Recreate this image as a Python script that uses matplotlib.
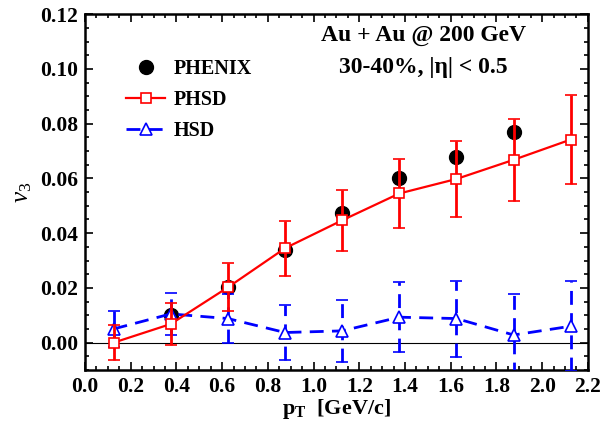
import matplotlib
matplotlib.use("Agg")
import matplotlib.pyplot as plt
from matplotlib.ticker import MultipleLocator, FormatStrFormatter

plt.rcParams['font.family'] = ['Liberation Serif', 'DejaVu Serif']
plt.rcParams['mathtext.fontset'] = 'custom'
plt.rcParams['mathtext.rm'] = 'Liberation Serif'
plt.rcParams['mathtext.it'] = 'Liberation Serif:italic'
plt.rcParams['mathtext.bf'] = 'Liberation Serif:bold'

# data
pt_phenix = [0.375, 0.625, 0.875, 1.125, 1.375, 1.625, 1.875]
v3_phenix = [0.010, 0.0204, 0.034, 0.0473, 0.060, 0.068, 0.077]

pt_model = [0.125, 0.375, 0.625, 0.875, 1.125, 1.375, 1.625, 1.875, 2.125]
v3_phsd = [0.0, 0.0068, 0.0202, 0.0345, 0.0447, 0.0545, 0.0598, 0.0668, 0.0742]
err_phsd = [0.0065, 0.0076, 0.0088, 0.0100, 0.0111, 0.0125, 0.0138, 0.0150, 0.0163]
v3_hsd = [0.0050, 0.0105, 0.0088, 0.0037, 0.0043, 0.0093, 0.0088, 0.0028, 0.0060]
err_hsd = [0.0065, 0.0077, 0.0088, 0.0100, 0.0113, 0.0128, 0.0139, 0.0150, 0.0165]

fig = plt.figure(figsize=(6.03, 4.30), dpi=100)
ax = fig.add_axes([0.141, 0.1395, 0.834, 0.8275])

ax.axhline(0.0, color='black', lw=0.8, zorder=1)

ph, = ax.plot(pt_phenix, v3_phenix, 'o', color='black', ms=10, label='PHENIX', zorder=2)

eb1 = ax.errorbar(pt_model, v3_phsd, yerr=err_phsd, color='red', lw=1.6,
                  marker='s', ms=7.5, mfc='white', mec='red', mew=1.2,
                  capsize=4.5, capthick=2.0, elinewidth=2.0, label='PHSD', zorder=4)

dash = (0, (5, 3))
eb2 = ax.errorbar(pt_model, v3_hsd, yerr=err_hsd, color='blue', lw=2.0,
                  ls=dash, marker='^', ms=8, mfc='white', mec='blue', mew=1.2,
                  capsize=4.5, capthick=2.0, elinewidth=2.0, label='HSD', zorder=3)
for lc in eb2[2]:
    lc.set_linestyle(dash)

ax.set_xlim(0.0, 2.2)
ax.set_ylim(-0.01, 0.12)
ax.xaxis.set_major_locator(MultipleLocator(0.2))
ax.xaxis.set_minor_locator(MultipleLocator(0.05))
ax.yaxis.set_major_locator(MultipleLocator(0.02))
ax.yaxis.set_minor_locator(MultipleLocator(0.005))
ax.xaxis.set_major_formatter(FormatStrFormatter('%.1f'))
ax.yaxis.set_major_formatter(FormatStrFormatter('%.2f'))
ax.tick_params(which='both', direction='in', top=True, right=True, width=1.2)
ax.tick_params(which='major', length=6, labelsize=15.5, pad=5)
ax.tick_params(which='minor', length=3)
for lab in ax.get_xticklabels() + ax.get_yticklabels():
    lab.set_fontweight('bold')
for s in ax.spines.values():
    s.set_linewidth(1.8)

ax.set_xlabel(r'$\mathbf{p}_{\mathbf{T}}$  [GeV/c]', fontsize=16, fontweight='bold', labelpad=0)
ax.set_ylabel(r'$v_3$', fontsize=18, labelpad=4)

ax.text(1.48, 0.1121, 'Au + Au @ 200 GeV', fontsize=17, fontweight='bold',
        ha='center', va='center')
ax.text(1.48, 0.1005, '30-40%, |η| < 0.5', fontsize=17, fontweight='bold',
        ha='center', va='center')

leg = ax.legend(handles=[ph, eb1[0], eb2[0]], labels=['PHENIX', 'PHSD', 'HSD'],
                loc='upper left', bbox_to_anchor=(0.0815, 0.874), frameon=False,
                prop={'weight': 'bold', 'size': 14.5}, handlelength=1.95,
                labelspacing=0.55, handletextpad=0.4, borderaxespad=0, borderpad=0)

fig.savefig('out.png', dpi=100)
